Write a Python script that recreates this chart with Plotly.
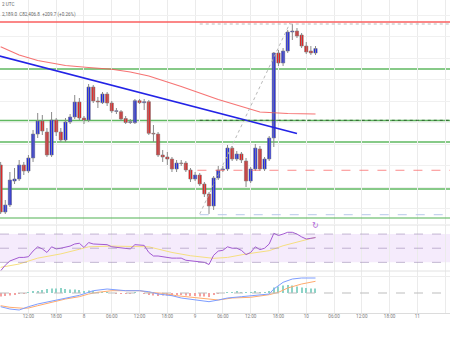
import pandas as pd
import plotly.graph_objects as go

# ---------------- data ----------------
candle_start = "2025-03-07 06:00"   # hourly candles
n_candles = 69
opens = [79514, 78421, 78584, 79142, 79188, 79514, 79374, 79677, 80234, 80537, 80281, 79746,
         80560, 80281, 80095, 80514, 80630, 80978,
         80606, 80560, 81327, 81002, 80962, 81164, 80955, 80758, 80753, 80595, 80502, 80497,
         81009, 80962, 80985, 80251, 80234, 79746, 79700, 79653, 79421, 79560, 79560, 79398,
         79188, 79281, 79072, 78840, 78560, 79212, 79398, 79421, 79909, 79653, 79770, 79607,
         79142, 79421, 79886, 79421, 79653, 80142, 82118, 81885, 82164, 82606, 82629, 82536,
         82280, 82164, 82118]
highs = [79584, 78700, 79351, 79444, 79630, 79584, 79746, 80328, 80723, 80676, 80374, 80746,
         80606, 80374, 80606, 80699, 81141, 81071,
         80653, 81397, 81374, 81095, 81211, 81211, 81002, 80839, 80792, 80653, 80583, 81048,
         81048, 81048, 81025, 80444, 80281, 79862, 79816, 79700, 79630, 79630, 79607, 79444,
         79351, 79328, 79119, 78886, 79258, 79491, 79491, 79979, 79956, 79839, 79816, 79677,
         79467, 80002, 79956, 79700, 80188, 82141, 82188, 82234, 82652, 82792, 82699, 82583,
         82373, 82280, 82280]
lows = [78375, 78375, 78537, 79072, 79142, 79281, 79328, 79584, 80142, 80211, 79700, 79700,
        80188, 80049, 80049, 80467, 80583, 80560,
        80467, 80514, 80955, 80839, 80932, 80885, 80723, 80699, 80537, 80467, 80467, 80467,
        80932, 80792, 80211, 80049, 79700, 79584, 79514, 79351, 79351, 79491, 79351, 79119,
        79142, 79026, 78770, 78375, 78468, 79165, 79351, 79374, 79607, 79607, 79560, 79002,
        79095, 79374, 79374, 79374, 79607, 79932, 81815, 81815, 82118, 82420, 82466, 82234,
        82094, 82071, 82071]
closes = [78421, 78584, 79165, 79188, 79514, 79374, 79677, 80234, 80537, 80304, 79746, 80560,
          80281, 80095, 80514, 80630, 80978, 80606,
          80560, 81327, 81002, 80978, 81164, 80955, 80769, 80776, 80583, 80502, 80520, 81009,
          80962, 80985, 80251, 80234, 79746, 79700, 79653, 79421, 79560, 79549, 79398, 79188,
          79281, 79072, 78840, 78560, 79212, 79398, 79421, 79909, 79653, 79770, 79630, 79142,
          79421, 79909, 79421, 79653, 80142, 82118, 81885, 82164, 82606, 82629, 82513, 82280,
          82141, 82118, 82222]

# moving average on price (read points)
sma_t = ["2025-03-07 06:00", "2025-03-07 10:00", "2025-03-07 14:00", "2025-03-07 20:00",
         "2025-03-08 01:00", "2025-03-08 06:00", "2025-03-08 10:00", "2025-03-08 14:00",
         "2025-03-08 21:00", "2025-03-09 05:00", "2025-03-09 14:00", "2025-03-09 20:00",
         "2025-03-10 02:00"]
sma_v = [82264, 82071, 81943, 81827, 81781, 81741, 81676, 81583, 81339, 81037, 80746, 80711, 80699]

# drawn trend line
trend_t = ["2025-03-07 05:00", "2025-03-09 22:00"]
trend_v = [82071, 80246]

# horizontal levels
resistance_level = 82839
support_levels = [81746, 80548, 80049, 78956]
base_support = 78281
# range tool
range_start = "2025-03-09 01:00"
range_end = "2025-03-11 08:00"
range_high = 82792
range_low = 78358
range_diag_t = ["2025-03-09 01:00", "2025-03-09 20:30"]
range_diag_v = [78375, 82815]
red_dash_start = "2025-03-09 00:30"
red_dash_level = 79391
green_dash_level = 80553

# RSI
rsi_v = [18, 26, 32, 35, 37, 37, 38, 46, 52, 49, 44, 52, 49, 50, 51, 53, 56, 57,
         51, 58, 56, 56, 56, 55, 52, 51, 50, 49, 49, 55, 55, 54, 44, 39, 39, 38, 36, 36,
         36, 36, 33, 32, 32, 31, 30, 27, 40, 46, 47, 52, 50, 50, 47, 41, 44, 52, 48, 50,
         56, 71, 68, 70, 72.5, 72.5, 70, 66, 63, 64, 65]
rsi_ma_t = ["2025-03-07 06:00", "2025-03-07 10:00", "2025-03-07 14:00", "2025-03-07 19:00",
            "2025-03-07 23:00", "2025-03-08 01:00", "2025-03-08 06:00", "2025-03-08 11:00",
            "2025-03-08 14:00", "2025-03-08 19:00", "2025-03-08 23:00", "2025-03-09 04:00",
            "2025-03-09 07:00", "2025-03-09 11:00", "2025-03-09 16:00", "2025-03-09 19:00",
            "2025-03-09 23:00", "2025-03-10 02:00"]
rsi_ma_v = [23, 27.7, 36, 42, 48.5, 52, 53, 53, 52, 44, 39.4, 35.7, 37, 41.8, 46.5, 53.5, 60.6, 65.4]

# MACD
macd_t = ["2025-03-07 06:00", "2025-03-07 08:00", "2025-03-07 10:00", "2025-03-07 11:00",
          "2025-03-07 12:00", "2025-03-07 14:00", "2025-03-07 17:00", "2025-03-07 19:00",
          "2025-03-07 21:00", "2025-03-07 23:00", "2025-03-08 01:00", "2025-03-08 02:00",
          "2025-03-08 05:00", "2025-03-08 07:00", "2025-03-08 09:00", "2025-03-08 12:00",
          "2025-03-08 14:00", "2025-03-08 16:00", "2025-03-08 19:00", "2025-03-08 21:00",
          "2025-03-09 00:00", "2025-03-09 03:00", "2025-03-09 05:00", "2025-03-09 07:00",
          "2025-03-09 10:00", "2025-03-09 13:00", "2025-03-09 16:00", "2025-03-09 17:00",
          "2025-03-09 19:00", "2025-03-09 21:00", "2025-03-09 23:00", "2025-03-10 02:00"]
macd_v = [-274, -320, -340, -300, -274, -220, -166, -120, -86, -46, 14, 46, 80, 60, 46, 46,
          26, -20, -54, -100, -140, -174, -140, -100, -74, -40, -20, 80, 214, 280, 300, 300]
signal_t = ["2025-03-07 06:00", "2025-03-07 08:00", "2025-03-07 11:00", "2025-03-07 12:00",
            "2025-03-07 14:00", "2025-03-07 17:00", "2025-03-07 20:00", "2025-03-07 23:00",
            "2025-03-08 01:00", "2025-03-08 03:00", "2025-03-08 06:00", "2025-03-08 09:00",
            "2025-03-08 12:00", "2025-03-08 14:00", "2025-03-08 17:00", "2025-03-08 20:00",
            "2025-03-08 23:00", "2025-03-09 02:00", "2025-03-09 05:00", "2025-03-09 08:00",
            "2025-03-09 12:00", "2025-03-09 16:00", "2025-03-09 18:00", "2025-03-09 20:00",
            "2025-03-09 23:00", "2025-03-10 02:00"]
signal_v = [-254, -286, -306, -300, -254, -186, -120, -74, -20, 14, 46, 46, 46, 14, -6, -54,
            -86, -120, -140, -100, -86, -34, 14, 100, 180, 234]
hist_v = [-70, -60, -50, -40, -20, -10, 10, 30, 40, 60, 80, 90, 90, 100, 80, 70, 70, 60,
          40, 50, 40, 20, 20, 10, 0, -10, -10, -10, -10, 10, 0, -10, -40, -50, -60, -50, -50,
          -50, -40, -40, -50, -60, -60, -70, -70, -80, -40, -20, 0, 20, 20, 30, 20, 10, 10,
          30, 20, 20, 40, 110, 130, 150, 160, 150, 130, 110, 100, 90, 90]

tick_times = pd.date_range("2025-03-07 06:00", "2025-03-11 06:00", freq="6h")
tick_text = [str(t.day) if t.hour == 0 else t.strftime("%H:%M") for t in tick_times]
header_1 = "2 UTC"
header_2 = "2,189.0  C82,406.8  +209.7 (+0.26%)"

# ---------------- figure ----------------
times = pd.date_range(candle_start, periods=n_candles, freq="h")
W, H = 450, 338
PLOT_H = 313.0
HOUR_MS = 3600 * 1000
def pf(px):  # pixel from top -> paper fraction
    return (PLOT_H - px) / PLOT_H

BLUE = "#0a14ff"
RED = "#ff0a0a"
WICK = "#8a8a8a"
GREEN = "#5fb860"

fig = go.Figure()

fig.add_trace(go.Scatter(x=sma_t, y=sma_v, mode="lines",
                         line=dict(color="rgba(245,90,90,0.85)", width=1.1),
                         xaxis="x", yaxis="y", hoverinfo="skip"))
fig.add_trace(go.Scatter(x=range_diag_t, y=range_diag_v, mode="lines",
                         line=dict(color="#b9b9b9", width=1, dash="dot"),
                         xaxis="x", yaxis="y", hoverinfo="skip"))

# candles: wicks + bodies
wx, wy = [], []
for t, hi, lo in zip(times, highs, lows):
    wx += [t, t, None]
    wy += [lo, hi, None]
fig.add_trace(go.Scatter(x=wx, y=wy, mode="lines", line=dict(color=WICK, width=1),
                         xaxis="x", yaxis="y", hoverinfo="skip"))
body_base = [min(o, c) for o, c in zip(opens, closes)]
body_len = [abs(c - o) for o, c in zip(opens, closes)]
body_col = [BLUE if c >= o else RED for o, c in zip(opens, closes)]
fig.add_trace(go.Bar(x=times, y=body_len, base=body_base, width=0.7 * HOUR_MS,
                     marker=dict(color=body_col, line=dict(color="#7a7a7a", width=0.6)),
                     xaxis="x", yaxis="y", hoverinfo="skip"))

fig.add_trace(go.Scatter(x=trend_t, y=trend_v, mode="lines",
                         line=dict(color="#2323e6", width=1.7),
                         xaxis="x", yaxis="y", hoverinfo="skip"))

# RSI
fig.add_trace(go.Scatter(x=rsi_ma_t, y=rsi_ma_v, mode="lines",
                         line=dict(color="#f6df80", width=1), xaxis="x", yaxis="y2"))
fig.add_trace(go.Scatter(x=times, y=rsi_v, mode="lines",
                         line=dict(color="#a35ad2", width=1), xaxis="x", yaxis="y2"))

# MACD
hist_colors = ["#8dd3c7" if v >= 0 else "#f5a0a0" for v in hist_v]
fig.add_trace(go.Bar(x=times, y=hist_v, marker=dict(color=hist_colors, line=dict(width=0)),
                     width=0.23 * HOUR_MS, xaxis="x", yaxis="y3"))
fig.add_trace(go.Scatter(x=signal_t, y=signal_v, mode="lines",
                         line=dict(color="#ffab6e", width=1), xaxis="x", yaxis="y3"))
fig.add_trace(go.Scatter(x=macd_t, y=macd_v, mode="lines",
                         line=dict(color="#7d9dff", width=1), xaxis="x", yaxis="y3"))

shapes = []
# RSI band
shapes.append(dict(type="rect", xref="paper", x0=0, x1=1, yref="y2", y0=30, y1=70,
                   fillcolor="rgba(185,110,235,0.14)", line=dict(width=0), layer="below"))
for lv in (30, 50, 70):
    shapes.append(dict(type="line", xref="paper", x0=0, x1=1, yref="y2", y0=lv, y1=lv,
                       line=dict(color="rgba(150,130,175,0.55)", width=1, dash="dash")))
# MACD zero line
shapes.append(dict(type="line", xref="paper", x0=0, x1=1, yref="y3", y0=0, y1=0,
                   line=dict(color="#bdbdbd", width=1, dash="dash")))
# pane separators
for p in (225, 271):
    shapes.append(dict(type="line", xref="paper", x0=0, x1=1, yref="paper", y0=pf(p), y1=pf(p),
                       line=dict(color="#e2e2e2", width=1)))
# price levels
shapes.append(dict(type="line", xref="paper", x0=0, x1=1, yref="y", y0=resistance_level,
                   y1=resistance_level, line=dict(color="rgba(250,95,95,0.75)", width=2)))
for lv in support_levels:
    shapes.append(dict(type="line", xref="paper", x0=0, x1=1, yref="y", y0=lv, y1=lv,
                       line=dict(color=GREEN, width=1.3), layer="below"))
shapes.append(dict(type="line", xref="paper", x0=0, x1=1, yref="y", y0=base_support,
                   y1=base_support, line=dict(color="rgba(95,184,96,0.55)", width=2)))
shapes.append(dict(type="line", xref="x", x0=range_start, x1=range_end, yref="y",
                   y0=range_high, y1=range_high, line=dict(color="#b9b9b9", width=1, dash="dot")))
shapes.append(dict(type="line", xref="x", x0=range_start, x1=range_end, yref="y",
                   y0=range_low, y1=range_low, line=dict(color="#b7c8ea", width=1, dash="dash")))
shapes.append(dict(type="line", xref="x", x0=red_dash_start, x1=range_end, yref="y",
                   y0=red_dash_level, y1=red_dash_level,
                   line=dict(color="rgba(250,110,110,0.8)", width=1, dash="dash")))
shapes.append(dict(type="line", xref="x", x0=range_start, x1=range_end, yref="y",
                   y0=green_dash_level, y1=green_dash_level,
                   line=dict(color="#2f5f2f", width=1, dash="dot")))

annotations = [
    dict(text=header_1, xref="paper", yref="paper", x=0.0, y=pf(5), xanchor="left",
         yanchor="middle", showarrow=False, font=dict(size=4.6, color="#666", family="Roboto")),
    dict(text=header_2, xref="paper", yref="paper", x=0.0, y=pf(15), xanchor="left",
         yanchor="middle", showarrow=False, font=dict(size=4.6, color="#666", family="Roboto")),
    dict(text="↻", xref="x", yref="paper", x="2025-03-10 02:00", y=pf(225.5), xanchor="center",
         yanchor="middle", showarrow=False, font=dict(size=8, color="#b068d8", family="DejaVu Sans")),
]

fig.update_layout(
    width=W, height=H, margin=dict(l=0, r=0, t=0, b=H - PLOT_H),
    paper_bgcolor="white", plot_bgcolor="white", showlegend=False,
    shapes=shapes, annotations=annotations, barmode="overlay",
    xaxis=dict(type="date", range=["2025-03-07 05:51:36", "2025-03-11 07:03"], anchor="y3",
               tickvals=list(tick_times), ticktext=tick_text, ticks="", showgrid=True,
               gridcolor="#ebebeb", gridwidth=1, showline=True, linecolor="#dcdcdc",
               ticklabelstandoff=-2,
               tickfont=dict(size=4.6, color="#7b7b7b", family="Roboto"), zeroline=False),
    yaxis=dict(domain=[pf(224), 1], range=[78142, 83350], dtick=500, tick0=0,
               showticklabels=False, showgrid=True, gridcolor="#f0f0f0", zeroline=False,
               ticks=""),
    yaxis2=dict(domain=[pf(272), pf(225)], range=[16.4, 82.8], showticklabels=False,
                showgrid=False, zeroline=False, anchor="x"),
    yaxis3=dict(domain=[0, pf(272)], range=[-400, 420], showticklabels=False,
                tickvals=[340], showgrid=True, gridcolor="#ededed", zeroline=False,
                anchor="x"),
)

fig.write_html("out.html")
